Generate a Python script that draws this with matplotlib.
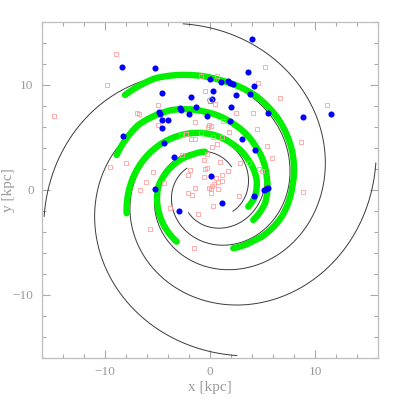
import numpy as np
import matplotlib
matplotlib.use("Agg")
import matplotlib.pyplot as plt
from matplotlib.ticker import MultipleLocator

# ---------------- data ----------------
# model spiral arms (logarithmic): start angle (deg), inner/outer radius (kpc), pitch (deg)
arm_start_deg = [47.0, 137.0, 227.0, 317.0]
arm_r_inner = 3.0
arm_r_outer = 16.0
arm_pitch_deg = 13.1

# fitted arm segments (green): polar knots (angle deg, radius kpc)
g1_theta = [131.9, 116.3, 100.7, 83.8, 64.2, 45.6, 24.0, 2.0, -20.6, -42.3, -48.2, -68.3]
g1_r = [12.12, 11.83, 11.12, 10.45, 9.95, 9.35, 8.6, 7.85, 7.3, 6.66, 6.43, 6.0]
g2_theta = [159.6, 137.9, 115.7, 93.7, 68.4, 43.7, 12.9, -13.9, -35.0]
g2_r = [9.48, 9.2, 8.42, 7.44, 6.6, 6.0, 5.54, 5.4, 5.03]
g3_theta = [195.8, 167.7, 143.1, 117.4, 95.1, 64.2, 37.8, 11.7, -8.9, -23.9]
g3_r = [8.25, 7.31, 6.56, 5.87, 5.39, 4.85, 4.62, 4.54, 4.34, 3.99]
g4_theta = [237.4, 201.4, 176.6, 149.0, 117.9, 97.5]
g4_r = [5.88, 5.29, 4.93, 4.26, 3.74, 3.65]
green_theta = [g1_theta, g2_theta, g3_theta, g4_theta]
green_r = [g1_r, g2_r, g3_r, g4_r]

# blue filled circles (x, y in kpc)
blue_x = [-8.41, -5.24, -4.6, -1.81, -1.33, -2.86, -2.79, -4.83, -4.76, -1.97, -0.25,
          -4.6, -4.03, -4.54, -8.31, -4.35, -3.4, -5.27, -2.95, 0.1, 1.17, 0.0, 1.05,
          1.74, 1.94, 2.16, 3.65, 4.22, 0.31, 0.16, 2.5, 3.78, 2.03, 5.49, 8.89, 1.9,
          3.08, 4.32, 4.19, 5.17, 5.33, 5.52, 3.97, 11.49]
blue_y = [11.71, 11.56, 9.18, 8.8, 7.9, 7.81, 7.59, 7.43, 7.21, 7.21, 7.05,
          6.64, 6.61, 5.9, 5.14, 4.48, 3.14, 0.07, -2.03, 1.3, -1.27, 10.54, 10.29,
          10.35, 10.19, 10.07, 11.18, 9.88, 9.4, 8.64, 9.02, 9.14, 7.88, 7.33, 6.95, 6.57,
          4.83, 3.78, -0.57, -0.03, 0.04, 0.16, 14.35, 7.24]

# red open squares (x, y in kpc)
red_x = [-9.84, -6.98, -6.73, -4.92, -4.92, -0.86, 0.63, -0.48, 0.48, 4.54, 5.24, 6.67,
         4.06, 2.48, -1.43, -0.06, 0.1, -0.22, 1.27, -0.86, 0.31, 1.17, 1.81, 4.5, 5.4,
         5.87, 8.64, 8.89, -2.76, -2.31, -1.81, -1.43, -2.7, -0.54, 0.22, 0.7, -0.25,
         0.98, 1.68, 2.86, 3.71, 4.67, 4.92, -0.48, -0.32, -1.9, -0.6, 1.17, 0.57, 0.79,
         0.38, 1.17, -2.06, -2.12, -1.68, -1.43, -0.1, 0.1, 0.16, 0.1, 0.73, 0.31, 2.79,
         -5.4, -6.13, -4.41, -6.67, -3.81, -5.71, -1.17, -1.49, -9.52, -8.0, -8.98,
         -14.86, 11.11]
red_y = [9.97, 7.28, 7.18, 8.07, 6.16, 10.83, 10.83, 9.4, 8.13, 10.13, 11.71, 8.76,
         7.33, 7.33, 6.48, 6.16, 6.07, 6.0, 6.54, 5.43, 5.02, 5.05, 5.47, 5.78, 4.19,
         2.99, 4.57, -0.19, 5.21, 5.3, 4.83, 4.83, 3.3, 2.83, 4.04, 4.32, 3.37,
         2.67, 1.81, 2.51, 2.51, 1.94, 1.81, 2.0, 2.1, 1.88, 1.18, 1.4, 1.14, 0.76,
         0.54, 0.86, 1.4, -0.29, -0.5, 0.19, 0.13, 0.04, 0.35, -0.35, 0.07, -1.52, -0.6,
         1.66, 0.76, 0.61, -0.03, -1.71, -3.71, -2.31, -5.58, 2.19, 2.51, 12.9,
         7.02, 8.04]

sun_x, sun_y = [0.0], [8.5]

# ---------------- figure ----------------
grey = "#a8a8a8"
plt.rcParams["font.family"] = ["Liberation Serif", "DejaVu Serif"]
fig = plt.figure(figsize=(3.98, 4.0), dpi=100)
ax = fig.add_axes([0.1055, 0.1058, 0.8442, 0.84])

# model arms
k = np.tan(np.radians(arm_pitch_deg))
dth = np.linspace(0, np.log(arm_r_outer / arm_r_inner) / k, 800)
for th0 in arm_start_deg:
    r = arm_r_inner * np.exp(k * dth)
    th = np.radians(th0) + dth
    ax.plot(r * np.cos(th), r * np.sin(th), color="#3a3a3a", lw=0.7, zorder=2)

# fitted green segments
for tk, rk in zip(green_theta, green_r):
    tk = np.asarray(tk); rk = np.asarray(rk)
    order = np.argsort(tk)
    tt = np.linspace(tk.min(), tk.max(), 400)
    rr = np.exp(np.interp(tt, tk[order], np.log(rk[order])))
    ax.plot(rr * np.cos(np.radians(tt)), rr * np.sin(np.radians(tt)),
            color="#00f000", lw=4.6, solid_capstyle="round", zorder=3)

ax.plot(red_x, red_y, ls="none", marker="s", ms=3.3, mfc="none", mec="#ffa0a0",
        mew=0.6, zorder=4)
ax.plot(blue_x, blue_y, ls="none", marker="o", ms=4.4, mfc="#0000ff", mec="#0000ff",
        mew=0, zorder=5)
ax.plot(sun_x, sun_y, ls="none", marker="p", ms=5, mfc="none", mec="#888888",
        mew=0.6, zorder=5)

ax.set_xlim(-16, 16)
ax.set_ylim(-16, 16)
ax.xaxis.set_major_locator(MultipleLocator(10))
ax.yaxis.set_major_locator(MultipleLocator(10))
ax.xaxis.set_minor_locator(MultipleLocator(2))
ax.yaxis.set_minor_locator(MultipleLocator(2))
ax.tick_params(which="both", direction="in", top=True, right=True, colors=grey,
               labelcolor="#999999", labelsize=9.5, width=0.8)
ax.tick_params(which="major", length=6, pad=6)
ax.tick_params(which="minor", length=3)
for s in ax.spines.values():
    s.set_color("#bdbdbd")
    s.set_linewidth(0.9)
ax.set_xlabel("x [kpc]", color="#999999", fontsize=11)
ax.set_ylabel("y [kpc]", color="#999999", fontsize=11)
ax.xaxis.set_label_coords(0.5, -0.068)
ax.yaxis.set_label_coords(-0.079, 0.5)

fig.savefig("out.png", dpi=100, facecolor="white")
